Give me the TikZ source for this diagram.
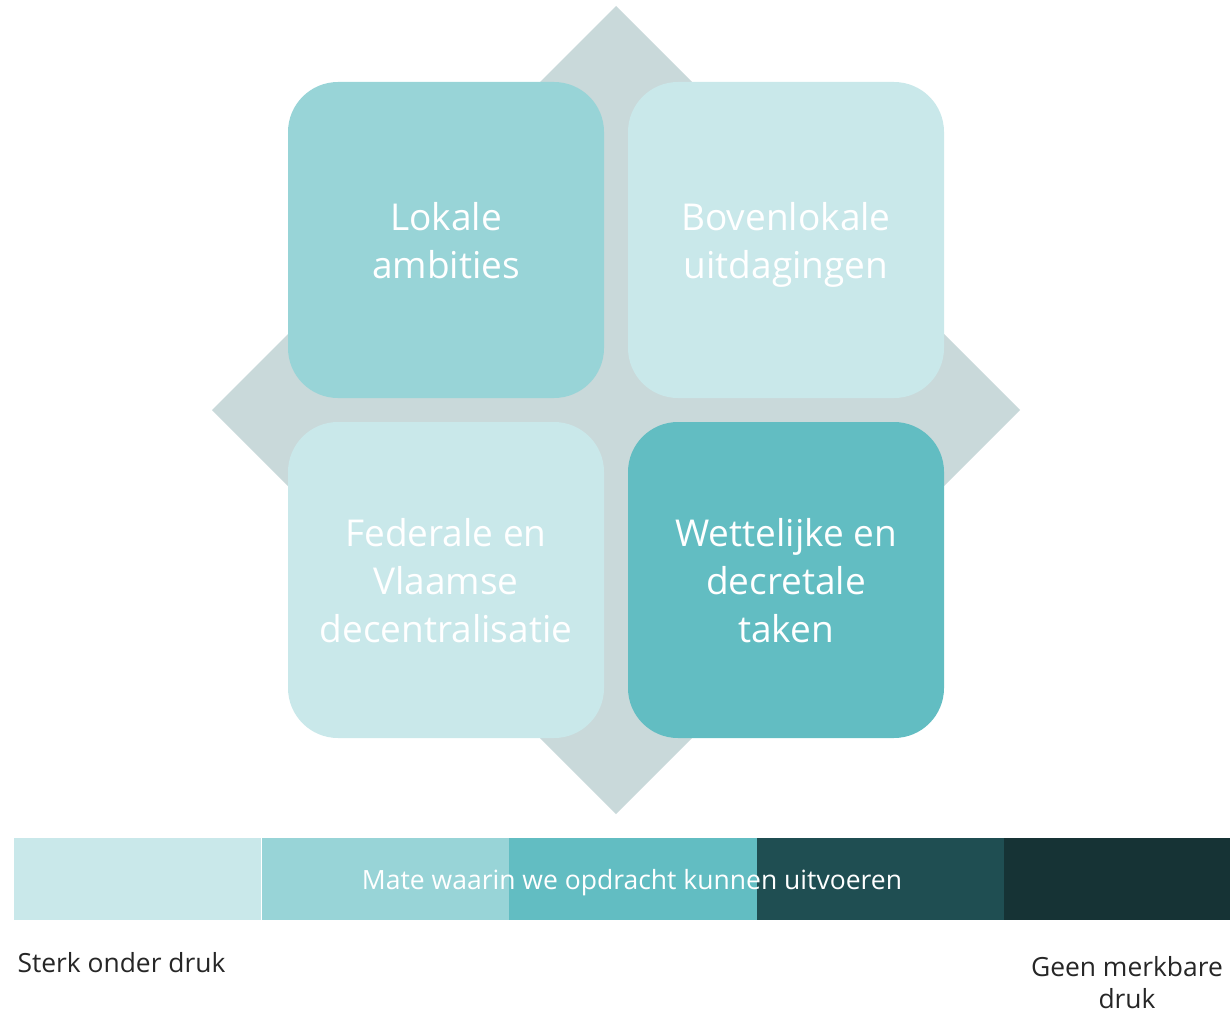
\documentclass[tikz,border=0pt]{standalone}
\usepackage{fontspec}
\setmainfont{Open Sans}
\definecolor{cLight}{HTML}{C9E8EA}
\definecolor{cMed}{HTML}{98D4D7}
\definecolor{cTeal}{HTML}{62BDC2}
\definecolor{cDark}{HTML}{1F4E52}
\definecolor{cDarkest}{HTML}{163335}
\definecolor{cDiamond}{HTML}{C9D9DA}
\begin{document}
\begin{tikzpicture}[x=1pt,y=-1pt,
  quad/.style={rounded corners=50pt, minimum width=316pt, minimum height=316pt, inner sep=0pt},
  qtext/.style={text=white, align=center, inner sep=0pt, yshift=-5pt, font=\fontsize{37}{48}\selectfont},
  seg/.style={minimum height=82pt, inner sep=0pt, outer sep=0pt, anchor=north west},
  lbl/.style={text=black!85, align=center, font=\fontsize{26.4}{32}\selectfont}]
\useasboundingbox (0,0) rectangle (1230,1014);
\fill[cDiamond] (616,6) -- (1020,410) -- (616,814) -- (212,410) -- cycle;
\node[quad, fill=cMed] (tl) at (446,240) {};
\node[quad, fill=cLight] (tr) at (786,240) {};
\node[quad, fill=cLight] (bl) at (446,580) {};
\node[quad, fill=cTeal] (br) at (786,580) {};
\node[qtext] (tlt) at (tl.center) {Lokale\strut\\ambities\strut};
\node[qtext] (trt) at (tr.center) {Bovenlokale\strut\\uitdagingen\strut};
\node[qtext] (blt) at (bl.center) {Federale en\strut\\Vlaamse\strut\\decentralisatie\strut};
\node[qtext] (brt) at (br.center) {Wettelijke en\strut\\decretale\strut\\taken\strut};
\node[seg, fill=cLight, minimum width=247pt] (s1) at (14,838) {};
\node[seg, fill=cMed, minimum width=247pt] (s2) at (262,838) {};
\node[seg, fill=cTeal, minimum width=248pt] (s3) at (509,838) {};
\node[seg, fill=cDark, minimum width=247pt] (s4) at (757,838) {};
\node[seg, fill=cDarkest, minimum width=226pt] (s5) at (1004,838) {};
\node[text=white, font=\fontsize{26.5}{30}\selectfont] (bar) at (632,883) {Mate waarin we opdracht kunnen uitvoeren};
\node[lbl, anchor=west] (left) at (14,963) {Sterk onder druk};
\node[lbl] (right) at (1127,983) {Geen merkbare\\druk};
\end{tikzpicture}
\end{document}
